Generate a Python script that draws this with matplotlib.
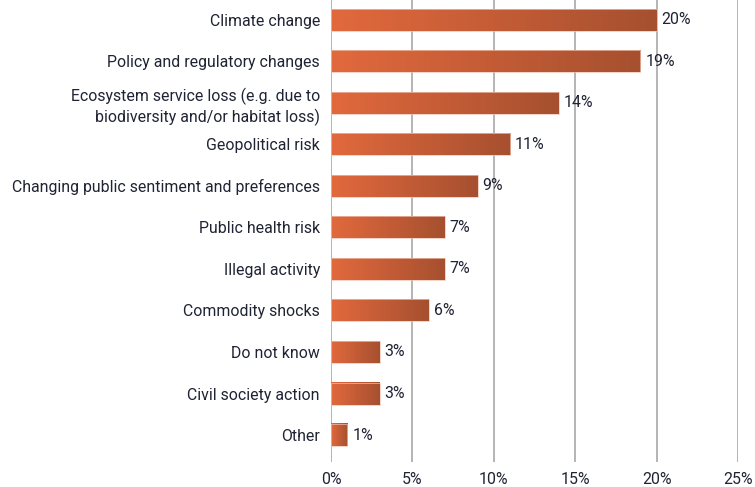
import numpy as np
import matplotlib.pyplot as plt
from matplotlib.colors import LinearSegmentedColormap

# risk categories, top to bottom
categories = [
    "Climate change",
    "Policy and regulatory changes",
    "Ecosystem service loss (e.g. due to\nbiodiversity and/or habitat loss)",
    "Geopolitical risk",
    "Changing public sentiment and preferences",
    "Public health risk",
    "Illegal activity",
    "Commodity shocks",
    "Do not know",
    "Civil society action",
    "Other",
]
shares = [20, 19, 14, 11, 9, 7, 7, 6, 3, 3, 1]
xticks = [0, 5, 10, 15, 20, 25]

plt.rcParams['font.family'] = ['Roboto', 'DejaVu Sans']
text_col = "#1f2333"
fs = 11.4
bar_cmap = LinearSegmentedColormap.from_list("bar", ["#e2693d", "#a6502f"])
grad = np.linspace(0, 1, 256).reshape(1, -1)

fig = plt.figure(figsize=(7.55, 4.87), dpi=100)
ax = fig.add_axes([331 / 755, 25 / 487, (738 - 331) / 755, 462 / 487])

h = 0.53
ys = np.arange(len(categories))
for y, v in zip(ys, shares):
    # each bar carries its own left-to-right shading
    ax.imshow(grad, cmap=bar_cmap, aspect="auto", interpolation="bicubic",
              extent=[0, v, y + h / 2, y - h / 2], zorder=3)
    ax.add_patch(plt.Rectangle((0, y - h / 2), v, h, fill=False,
                               edgecolor="#f0c2b0", linewidth=0.5, zorder=4))
    ax.text(v + 0.3, y, f"{v}%", va="center", ha="left",
            fontsize=fs, color=text_col, zorder=5)

ax.set_xlim(0, 25)
ax.set_ylim(len(categories) - 1 + 0.65, -0.48)
ax.set_yticks(ys)
ax.set_yticklabels(categories, fontsize=fs, color=text_col,
                   multialignment="right", linespacing=1.3)
ax.set_xticks(xticks)
ax.set_xticklabels([f"{t}%" for t in xticks], fontsize=fs, color=text_col)
ax.tick_params(axis="both", length=0)
ax.tick_params(axis="y", pad=8)
ax.tick_params(axis="x", pad=7)
ax.grid(axis="x", color="#b4b4b4", linewidth=1.4, zorder=0)
ax.set_axisbelow(True)
for s in ax.spines.values():
    s.set_visible(False)

fig.savefig("out.png", dpi=100)
